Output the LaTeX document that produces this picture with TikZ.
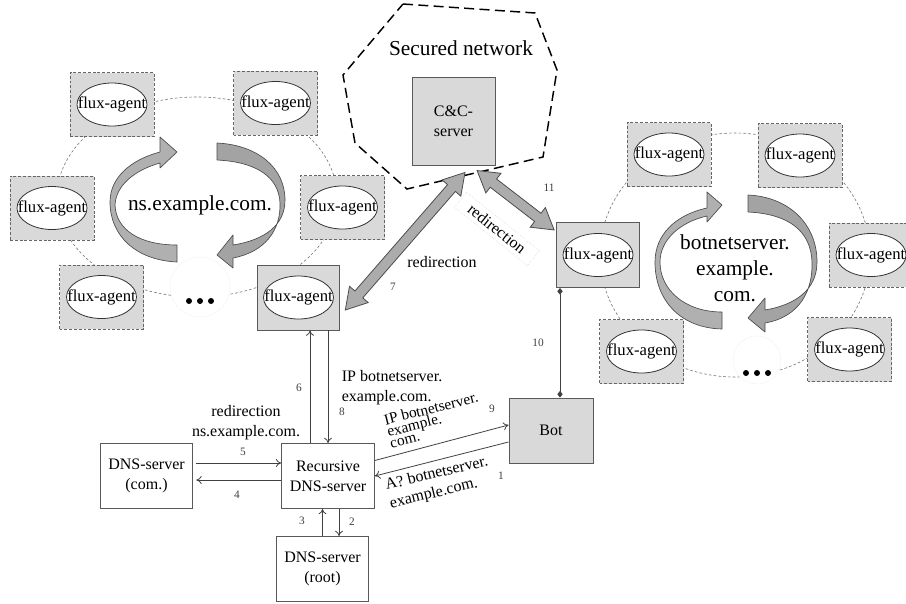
\documentclass[tikz,border=0pt]{standalone}
\usepackage{fontspec}
\setmainfont{Liberation Serif}
\usetikzlibrary{shapes.geometric,shapes.arrows,arrows.meta,calc}

\newcommand{\boxfont}{\fontsize{12}{15}\selectfont}
\newcommand{\bigfont}{\fontsize{16}{19.5}\selectfont}
\newcommand{\numfont}{\fontsize{8.5}{10}\selectfont}

\tikzset{every picture/.style={line width=0.75pt}}
\tikzset{
  agentbox/.style={draw=black!60, dash pattern=on 2.2pt off 1.4pt, line width=0.6pt, fill=gray!30, minimum width=63pt, minimum height=48pt, inner sep=0pt},
  hostbox/.style={draw=black!65, fill=gray!30, line width=0.7pt, minimum width=62pt, minimum height=48.75pt, inner sep=0pt, align=center, font=\boxfont},
  dnsbox/.style={draw=black!65, fill=white, line width=0.7pt, minimum width=69.5pt, minimum height=48.75pt, inner sep=0pt, align=center, font=\boxfont},
  oval/.style={draw=black!80, fill=white, line width=0.6pt},
  agenttext/.style={font=\fontsize{12.5}{14}\selectfont, inner sep=0pt},
  ring/.style={draw=black!55, dash pattern=on 2pt off 1.6pt, line width=0.45pt},
  dotring/.style={circle, draw=gray!25, densely dotted, line width=0.4pt, fill=white, inner sep=0pt},
  swirl/.style={draw=black!70, fill=gray!62, line width=0.5pt, line join=round},
  secure/.style={draw=black, dash pattern=on 7.5pt off 4pt, line width=1.1pt},
  fatarrow/.style={double arrow, draw=black!70, fill=gray!65, line width=0.6pt, inner sep=3.6pt, double arrow head extend=5.4pt, double arrow tip angle=62},
  msg/.style={draw=black!75, line width=0.6pt, -{To[length=4pt,width=6pt]}},
  link/.style={draw=black!75, line width=0.6pt, {Diamond[length=5pt,width=4pt]}-{Diamond[length=5pt,width=4pt]}},
  lbl/.style={font=\boxfont, align=center, inner sep=1pt},
  num/.style={font=\numfont, text=black!75, inner sep=1pt}
}

\begin{document}
\begin{tikzpicture}[x=0.75pt,y=0.75pt,yscale=-1,xscale=1]
\useasboundingbox (0,0) rectangle (906,603);

%Shape: dashed rings of the two flux networks
\draw[ring] (197,197) ellipse [x radius=140, y radius=100];
\draw[ring] (735,255) ellipse [x radius=135, y radius=122];

%Shape: Secured network
\draw[secure] (403,4) -- (535,13) -- (557,70) -- (543,157) -- (407,189) -- (355,143) -- (343,75) -- cycle;
% Text Node
\node[lbl, font=\bigfont] (secnet) at (461,48) {Secured network};

%Shape: C&C server
\node[hostbox, minimum width=62.25pt, minimum height=66pt] (cc) at (453.5,121) {C\&C-\\server};

%Shape: ellipsis circles
\node[dotring, minimum size=45pt] (ldots) at (200,287) {};
\node[dotring, minimum size=36pt] (rdots) at (757,360) {};
\foreach \dx in {-11,0,11} {
  \fill ($(ldots)+(\dx,14)$) circle [radius=3];
  \fill ($(rdots)+(\dx,13)$) circle [radius=3];
}

%Shape: flux agents
\foreach \n/\x/\y/\s in {la1/112/104.5/agentbox, la2/275.5/103/agentbox, la3/52/208/agentbox, la4/342.5/207.5/agentbox, la5/101.5/297/agentbox, la6/298.5/297.5/hostbox,
  ra1/669/154.5/agentbox, ra2/800/155.5/agentbox, ra3/598/255/hostbox, ra4/871/255/agentbox, ra5/641.5/351.5/agentbox, ra6/849.5/349.5/agentbox} {
  \node[\s] (\n) at (\x,\y) {};
  \draw[oval] (\n) ellipse [x radius=35, y radius=21.5];
  \node[agenttext] (\n-t) at (\n) {flux-agent};
}

%Shape: circular arrows ns.example.com.
\draw[swirl] (177,262) .. controls (135,260) and (110,235) .. (110,202) .. controls (110,178) and (130,160) .. (160,152) -- (160,137) -- (177,152) -- (160,168) -- (160,163) .. controls (135,170) and (116,185) .. (115,205) .. controls (116,230) and (140,245) .. (177,245) -- cycle;
\draw[swirl, fill=gray!72] (217,143) .. controls (258,145) and (285,168) .. (285,200) .. controls (285,225) and (265,240) .. (233,245) -- (233,235) -- (217,255) -- (233,268) -- (233,258) .. controls (265,252) and (281,230) .. (280,203) .. controls (279,178) and (258,162) .. (217,160) -- cycle;
% Text Node
\node[lbl, font=\bigfont] (nstext) at (200,205) {ns.example.com.};

%Shape: circular arrows botnetserver
\draw[swirl] (722,329) .. controls (680,328) and (655,300) .. (655,262) .. controls (655,235) and (675,215) .. (707,208) -- (707,192) -- (722,205) -- (707,222) -- (707,216) .. controls (680,222) and (660,240) .. (660,262) .. controls (660,290) and (685,312) .. (722,312) -- cycle;
\draw[swirl, fill=gray!72] (748,195) .. controls (790,197) and (817,225) .. (817,262) .. controls (817,290) and (795,305) .. (765,310) -- (765,298) -- (748,318) -- (765,332) -- (765,323) .. controls (800,317) and (813,290) .. (812,262) .. controls (811,232) and (790,214) .. (748,212) -- cycle;
% Text Node
\node[lbl, font=\bigfont] (bntext) at (735,268) {botnetserver.\\example.\\com.};

%Shape: DNS servers and bot
\node[dnsbox] (rec) at (328,476) {Recursive\\DNS-server};
\node[dnsbox] (com) at (146.5,476) {DNS-server\\(com.)};
\node[dnsbox] (root) at (322.5,569) {DNS-server\\(root)};
\node[hostbox, minimum width=63pt] (bot) at (551,430.5) {Bot};

%Straight Lines: queries
\draw[msg] ($(com.east)+(3,-13)$) -- ($(rec.west)+(0,-13)$);
\draw[msg] ($(rec.west)+(0,4)$) -- ($(com.east)+(3,4)$);
\coordinate (p6) at ($(rec.north)+(-18,0)$);
\draw[msg] (p6) -- (p6 |- la6.south);
\draw[msg] (rec.north |- la6.south) -- (rec.north);
\draw[msg] (root.north) -- (root.north |- rec.south);
\coordinate (p2) at ($(root.north)+(16.5,0)$);
\draw[msg] (p2 |- rec.south) -- (p2);
\draw[msg] ($(rec.east)+(0,-15.5)$) -- ($(bot.west)+(0,-5.5)$);
\draw[msg] ($(bot.west)+(0,11.5)$) -- (rec.east);
\coordinate (p10) at ($(bot.north)+(9,0)$);
\draw[link] (p10 |- ra3.south) -- (p10);

%Shape: redirection arrows
\coordinate (t7a) at ($(la6.east)+(5,12.5)$);
\coordinate (t7b) at ($(cc.south)+(11.5,7)$);
\coordinate (t11a) at ($(cc.south)+(23.5,5)$);
\coordinate (t11b) at ($(ra3.north west)+(-2,8)$);
\path let \p1=($(t7b)-(t7a)$), \n1={veclen(\x1,\y1)}, \n2={atan2(\y1,\x1)} in
  node[fatarrow, minimum height=\n1, rotate={-\n2}] (ar7) at ($(t7a)!0.5!(t7b)$) {};
\path let \p1=($(t11b)-(t11a)$), \n1={veclen(\x1,\y1)}, \n2={atan2(\y1,\x1)} in
  node[fatarrow, minimum height=\n1, rotate={-\n2}] (ar11) at ($(t11a)!0.5!(t11b)$) {};

% Text Node
\node[lbl] (redir7) at (442,262) {redirection};
% Text Node
\node[lbl, draw=gray!35, densely dotted, line width=0.4pt, inner xsep=9pt, inner ysep=3pt, rotate=-38.7] (redir11) at (497,229) {redirection};
% Text Node
\node[lbl] (redirns) at (246,423) {redirection\\ns.example.com.};
% Text Node
\node[lbl, anchor=west, align=left] (ip8) at (340,388) {IP botnetserver.\\example.com.};
% Text Node
\node[lbl, align=left, font=\fontsize{11.5}{9}\selectfont, rotate=14] (ip9) at (434,420) {IP botnetserver.\\example.\\com.};
% Text Node
\node[lbl, align=left, font=\fontsize{12}{14}\selectfont, rotate=13.5] (query1) at (439,483) {A? botnetserver.\\example.com.};

% Text Node: step numbers
\node[num] (n1) at (501,476) {1};
\node[num] (n2) at (352,522) {2};
\node[num] (n3) at (302,521) {3};
\node[num] (n4) at (237,495) {4};
\node[num] (n5) at (243,452) {5};
\node[num] (n6) at (299,388) {6};
\node[num] (n7) at (393,287) {7};
\node[num] (n8) at (342,412) {8};
\node[num] (n9) at (492,409) {9};
\node[num] (n10) at (538,343) {10};
\node[num] (n11) at (549,188) {11};

\end{tikzpicture}
\end{document}
